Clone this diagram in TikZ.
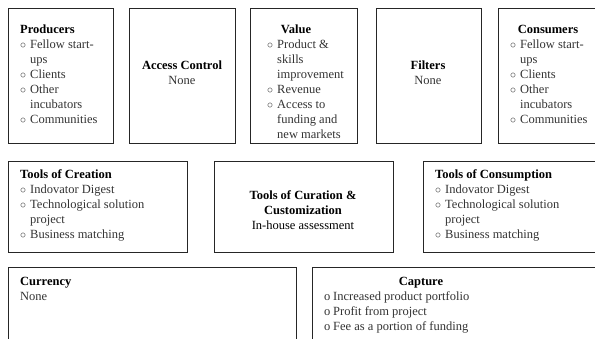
\documentclass[tikz,border=0pt]{standalone}
\usepackage{fontspec}
\setmainfont{Liberation Serif}
\usetikzlibrary{positioning}
\newcommand{\bul}{\strut\makebox[10pt][l]{$\circ$}}
\newcommand{\obul}{\strut\makebox[9pt][l]{o}}
\newcommand{\ind}{\strut\hspace*{10pt}}
\begin{document}
\begin{tikzpicture}[x=1pt,y=-1pt,
    box/.style={draw=black!85,line width=0.9pt,anchor=north west,inner sep=0pt},
    hd/.style={font=\fontsize{12.5}{15}\selectfont\bfseries,inner sep=0pt,anchor=base},
    hdl/.style={hd,anchor=base west},
    txt/.style={font=\fontsize{12.5}{15}\selectfont,text=black!80,align=left,inner sep=0pt,anchor=north west}]
        \useasboundingbox (0,0) rectangle (595,338);
        \clip (0,0) rectangle (595,338);
        \foreach \n/\x/\w in {prod/8/105,acc/129/106,val/250/107,fil/376/105,cons/498/105}
        {
          \node [box,minimum width=\w pt,minimum height=135pt] (\n) at (\x,8) {};
        }
        \foreach \n/\x/\w in {crea/8/179,cura/214/179,cnsm/423/180}
        {
          \node [box,minimum width=\w pt,minimum height=91pt] (\n) at (\x,161) {};
        }
        \foreach \n/\x/\w in {cur/8/288,cap/312/290}
        {
          \node [box,minimum width=\w pt,minimum height=90pt] (\n) at (\x,267) {};
        }

        \node [hdl] (prodT) at (20,33) {Producers};
        \node [txt] (prodL) at (20,37.5) {\bul Fellow start-\\\ind ups\\\bul Clients\\\bul Other\\\ind incubators\\\bul Communities};

        \node [hd] (accT) at (182,69) {Access Control};
        \node [txt,anchor=base] (accN) at (182,84) {None};

        \node [hd] (valT) at (296,33) {Value};
        \node [txt] (valL) at (267,37.5) {\bul Product \&\\\ind skills\\\ind improvement\\\bul Revenue\\\bul Access to\\\ind funding and\\\ind new markets};

        \node [hd] (filT) at (428,69) {Filters};
        \node [txt,anchor=base] (filN) at (428,84) {None};

        \node [hd] (consT) at (548,33) {Consumers};
        \node [txt] (consL) at (510,37.5) {\bul Fellow start-\\\ind ups\\\bul Clients\\\bul Other\\\ind incubators\\\bul Communities};

        \node [hdl] (creaT) at (20,178) {Tools of Creation};
        \node [txt] (creaL) at (20,182.5) {\bul Indovator Digest\\\bul Technological solution\\\ind project\\\bul Business matching};

        \node [txt,align=center,anchor=north,text=black] (curaT) at (303,188.5) {\strut\textbf{Tools of Curation \&}\\\textbf{Customization}\\In-house assessment};

        \node [hdl] (cnsmT) at (435,178) {Tools of Consumption};
        \node [txt] (cnsmL) at (435,182.5) {\bul Indovator Digest\\\bul Technological solution\\\ind project\\\bul Business matching};

        \node [hdl] (curT) at (20,285) {Currency};
        \node [txt,anchor=base west] (curN) at (20,300) {None};

        \node [hd] (capT) at (421,285) {Capture};
        \node [txt] (capL) at (324,289.5) {\obul Increased product portfolio\\\obul Profit from project\\\obul Fee as a portion of funding};
      \end{tikzpicture}
\end{document}
